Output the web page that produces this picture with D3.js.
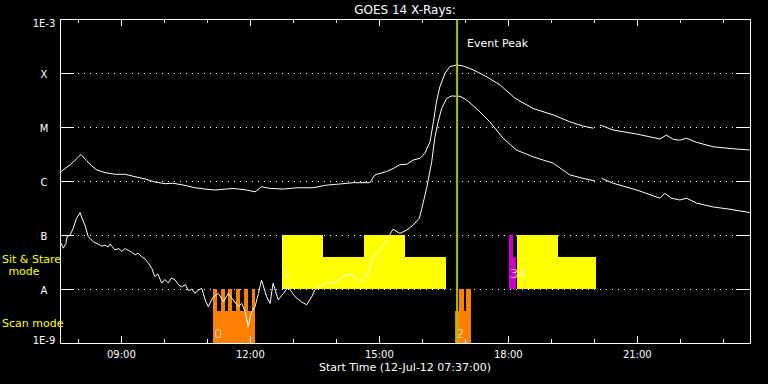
<!DOCTYPE html>
<html>
<head>
<meta charset="utf-8">
<script src="https://cdn.jsdelivr.net/npm/d3@7"></script>
<style>
body { margin: 0; background: #000; }
svg { display: block; background: #000; }
text { font-family: "DejaVu Sans", sans-serif; fill: #fff; }
</style>
</head>
<body>
<svg></svg>
<script>
// flux levels on the y axis (W/m^2) and their labels
var levelValues = [1e-3, 1e-4, 1e-5, 1e-6, 1e-7, 1e-8, 1e-9];
var levelLabels = ["1E-3", "X", "M", "C", "B", "A", "1E-9"];

// hour ticks, labelled every 3 hours
var hourTicks = [8, 9, 10, 11, 12, 13, 14, 15, 16, 17, 18, 19, 20, 21, 22, 23];
var hourLabels = [9, 12, 15, 18, 21];

// GOES 14 long channel (1-8 A): [hour UT, flux]; null = data gap
var longChannel = [
  [7.61,1.5e-6],[7.70,1.7e-6],[7.82,2.0e-6],[7.93,2.4e-6],[8.07,3.1e-6],[8.20,2.4e-6],
  [8.32,1.9e-6],[8.44,1.6e-6],[8.63,1.43e-6],[8.86,1.33e-6],[9.10,1.33e-6],[9.33,1.2e-6],
  [9.56,1.09e-6],[9.79,9.6e-7],[10.03,8.9e-7],[10.21,9.1e-7],[10.49,8.3e-7],[10.72,7.5e-7],
  [10.96,7.1e-7],[11.19,6.8e-7],[11.37,7.0e-7],[11.61,7.3e-7],[11.93,6.8e-7],[12.12,6.3e-7],
  [12.27,7.8e-7],[12.47,7.3e-7],[12.78,7.1e-7],[13.09,7.5e-7],[13.47,7.5e-7],[13.79,8.4e-7],
  [14.10,8.8e-7],[14.40,9.3e-7],[14.79,9.3e-7],[14.91,1.3e-6],[15.18,1.5e-6],[15.33,1.7e-6],
  [15.49,2.0e-6],[15.65,2.04e-6],[15.80,2.45e-6],[15.96,2.63e-6],[16.07,3.26e-6],[16.19,5.3e-6],
  [16.27,1.25e-5],[16.34,2.94e-5],[16.42,5.6e-5],[16.54,9.9e-5],[16.65,1.31e-4],[16.81,1.41e-4],
  [16.96,1.35e-4],[17.20,1.14e-4],[17.51,8.5e-5],[17.82,6.0e-5],[18.17,3.4e-5],[18.59,2.2e-5],
  [19.06,1.67e-5],[19.44,1.25e-5],[19.75,1.04e-5],[19.99,9.5e-6],null,
  [20.14,1.09e-5],[20.45,8.8e-6],[21.00,7.4e-6],[21.54,6.0e-6],[21.69,7.1e-6],[21.85,5.9e-6],
  [22.00,5.7e-6],[22.16,6.2e-6],[22.39,5.2e-6],[22.78,4.3e-6],[23.17,4.0e-6],[23.63,3.75e-6]
];

// GOES 14 short channel (0.5-4 A)
var shortChannel = [
  [7.61,7.0e-8],[7.66,5.7e-8],[7.72,7.0e-8],[7.75,9.3e-8],[7.82,1.0e-7],[7.89,1.33e-7],
  [7.97,2.04e-7],[8.05,2.6e-7],[8.10,2.0e-7],[8.17,1.47e-7],[8.24,9.3e-8],[8.36,7.5e-8],
  [8.47,6.8e-8],[8.56,6.2e-8],[8.63,6.5e-8],[8.70,6.0e-8],[8.75,6.8e-8],[8.86,5.3e-8],
  [8.95,5.6e-8],[9.02,5.0e-8],[9.10,5.6e-8],[9.17,5.2e-8],[9.25,4.8e-8],[9.33,4.3e-8],
  [9.40,4.6e-8],[9.48,4.0e-8],[9.56,3.6e-8],[9.64,3.0e-8],[9.72,2.4e-8],[9.79,1.7e-8],
  [9.86,1.9e-8],[9.95,1.28e-8],[10.02,1.5e-8],[10.10,1.3e-8],[10.18,1.6e-8],
  [10.26,1.47e-8],[10.34,1.2e-8],[10.41,1.1e-8],[10.50,1.2e-8],[10.57,9.3e-9],[10.65,1.0e-8],
  [10.72,8.3e-9],[10.80,9.5e-9],[10.88,1.03e-8],[10.96,6.3e-9],
  [11.03,4.7e-9],[11.15,7.2e-9],[11.27,8.3e-9],[11.38,5.8e-9],[11.50,8.3e-9],[11.61,6.3e-9],
  [11.73,4.7e-9],[11.81,5.4e-9],[11.89,3.8e-9],[11.96,2.0e-9],[12.04,3.8e-9],[12.12,4.7e-9],
  [12.20,8.3e-9],[12.27,1.47e-8],[12.39,7.2e-9],[12.47,5.4e-9],[12.54,1.28e-8],[12.66,6.3e-9],
  [12.78,8.3e-9],[12.89,1.1e-8],[13.05,7.2e-9],[13.20,5.8e-9],[13.32,5.1e-9],[13.44,7.2e-9],
  [13.51,9.6e-9],[13.63,1.1e-8],[13.79,1.36e-8],[13.98,1.28e-8],[14.17,1.7e-8],[14.33,1.9e-8],
  [14.48,1.58e-8],[14.60,1.36e-8],[14.75,1.95e-8],[14.87,4.0e-8],[15.03,5.3e-8],[15.18,8.1e-8],
  [15.33,1.28e-7],[15.49,1.07e-7],[15.65,1.24e-7],[15.80,1.53e-7],[15.94,2.04e-7],[16.00,3.1e-7],
  [16.11,7.3e-7],[16.23,2.28e-6],[16.30,6.2e-6],[16.38,1.25e-5],[16.46,2.2e-5],[16.58,3.4e-5],
  [16.69,3.75e-5],[16.89,3.7e-5],[17.04,3.16e-5],[17.27,2.2e-5],[17.58,1.25e-5],[17.89,6.2e-6],
  [18.20,3.75e-6],[18.59,2.8e-6],[19.06,2.13e-6],[19.44,1.3e-6],[19.75,1.12e-6],[20.03,1.0e-6],null,
  [20.18,1.12e-6],[20.45,9.1e-7],[21.00,6.8e-7],[21.54,4.8e-7],[21.65,5.9e-7],[21.81,4.8e-7],
  [22.00,4.45e-7],[22.16,4.8e-7],[22.39,3.9e-7],[22.78,3.3e-7],[23.17,3.0e-7],[23.63,2.6e-7]
];

// observing mode blocks: [start hour, end hour, level (fraction of band)]
var sitStareBlocks = [
  [12.75,13.70,1],[13.70,14.65,0.6],[14.65,15.60,1],[15.60,16.56,0.6],
  [18.21,19.17,1],[19.17,20.05,0.6]
];
var targetBlocks = [[18.03,18.12,1],[18.12,18.19,0.6]];
var scanBlocks = [
  [11.14,11.23,1],[11.23,11.32,0.6],[11.32,11.41,1],[11.41,11.50,0.6],[11.50,11.59,1],
  [11.59,11.68,0.6],[11.68,11.77,1],[11.77,11.86,0.6],[11.86,11.95,1],[11.95,12.04,0.6],
  [12.04,12.13,1],
  [16.77,16.86,0.6],[16.86,16.98,1],[16.98,17.03,0.6],[17.03,17.14,1]
];

// block numbers: [label, start hour, band]
var blockLabels = [["0",11.14,"scan"],["1",12.75,"sit"],["2",16.77,"scan"],["3",18.03,"sit"],["4",18.21,"sit"]];

var peakTime = 16.82;

var svg = d3.select("svg")
    .attr("width", 768)
    .attr("height", 384);

var plotL = 60, plotR = 750, plotT = 19, plotB = 343;

var x = d3.scaleLinear()
    .domain([7 + 35/60, 23 + 38/60])
    .range([plotL, plotR]);

var y = d3.scaleLog()
    .domain([1e-9, 1e-3])
    .range([plotB, plotT]);

// bands for the mode blocks
var sitBand = d3.scaleLinear().domain([0, 1]).range([y(1e-8), y(1e-7)]);
var scanBand = d3.scaleLinear().domain([0, 1]).range([y(1e-9), y(1e-8)]);

// dotted level lines
svg.append("g")
  .selectAll("line")
  .data(levelValues.slice(1, 6))
  .enter().append("line")
    .attr("x1", plotL).attr("x2", plotR)
    .attr("y1", function(d) { return y(d) + 0.5; })
    .attr("y2", function(d) { return y(d) + 0.5; })
    .attr("stroke", "#fff")
    .attr("stroke-dasharray", "1,5")
    .attr("shape-rendering", "crispEdges");

// mode blocks
function drawBlocks(data, band, color) {
  svg.append("g")
    .selectAll("rect")
    .data(data)
    .enter().append("rect")
      .attr("x", function(d) { return x(d[0]); })
      .attr("width", function(d) { return x(d[1]) - x(d[0]); })
      .attr("y", function(d) { return band(d[2]); })
      .attr("height", function(d) { return band(0) - band(d[2]); })
      .attr("fill", color)
      .attr("shape-rendering", "crispEdges");
}
drawBlocks(sitStareBlocks, sitBand, "#ffff00");
drawBlocks(targetBlocks, sitBand, "#cc00cc");
drawBlocks(scanBlocks, scanBand, "#ff8000");

// block numbers
svg.append("g")
  .selectAll("text")
  .data(blockLabels)
  .enter().append("text")
    .attr("x", function(d) { return x(d[1]) + 1; })
    .attr("y", function(d) { return d[2] == "scan" ? scanBand(0) - 5 : sitBand(0) - 11; })
    .attr("font-size", 13)
    .attr("font-weight", 300)
    .text(function(d) { return d[0]; });

// flux curves
var line = d3.line()
    .defined(function(d) { return d !== null; })
    .x(function(d) { return x(d[0]); })
    .y(function(d) { return y(d[1]); });

[longChannel, shortChannel].forEach(function(series) {
  svg.append("path")
      .datum(series)
      .attr("d", line)
      .attr("fill", "none")
      .attr("stroke", "#fff")
      .attr("stroke-width", 1);
});

// event peak marker
svg.append("line")
    .attr("x1", x(peakTime)).attr("x2", x(peakTime))
    .attr("y1", plotT).attr("y2", plotB)
    .attr("stroke", "#99cc00")
    .attr("stroke-width", 2);

svg.append("text")
    .attr("x", x(peakTime) + 10)
    .attr("y", 47)
    .attr("font-size", 11)
    .text("Event Peak");

// axes
function hourFmt(h) { return (h < 10 ? "0" : "") + h + ":00"; }

var gBottom = svg.append("g").attr("transform", "translate(0," + plotB + ")");
gBottom.call(d3.axisBottom(x).tickValues(hourTicks).tickSize(-4).tickSizeOuter(0).tickFormat(""));
gBottom.append("g").call(d3.axisBottom(x).tickValues(hourLabels).tickSize(-7).tickSizeOuter(0)
    .tickPadding(8).tickFormat(hourFmt));

var gTop = svg.append("g").attr("transform", "translate(0," + plotT + ")");
gTop.call(d3.axisTop(x).tickValues(hourTicks).tickSize(-4).tickSizeOuter(0).tickFormat(""));
gTop.append("g").call(d3.axisTop(x).tickValues(hourLabels).tickSize(-7).tickSizeOuter(0).tickFormat(""));

var gLeft = svg.append("g").attr("transform", "translate(" + plotL + ",0)");
gLeft.call(d3.axisLeft(y).tickValues(levelValues).tickSize(-14).tickSizeOuter(0)
    .tickFormat(function(d, i) { return levelLabels[i]; }));
gLeft.selectAll(".tick text")
    .attr("text-anchor", "middle")
    .attr("x", -16)
    .attr("y", function(d) { return d === 1e-3 ? 4 : d === 1e-9 ? -3 : 1; });

var gRight = svg.append("g").attr("transform", "translate(" + plotR + ",0)");
gRight.call(d3.axisRight(y).tickValues(levelValues).tickSize(-14).tickSizeOuter(0).tickFormat(""));

svg.selectAll(".domain").remove();
svg.selectAll(".tick line").attr("stroke", "#fff").attr("shape-rendering", "crispEdges");
svg.selectAll(".tick text")
    .attr("fill", "#fff")
    .attr("font-family", "DejaVu Sans")
    .attr("font-size", 10);

// frame
svg.append("rect")
    .attr("x", plotL + 0.5).attr("y", plotT + 0.5)
    .attr("width", plotR - plotL).attr("height", plotB - plotT)
    .attr("fill", "none")
    .attr("stroke", "#fff")
    .attr("shape-rendering", "crispEdges");

// titles
svg.append("text")
    .attr("x", (plotL + plotR) / 2)
    .attr("y", 14)
    .attr("text-anchor", "middle")
    .attr("font-size", 12)
    .text("GOES 14 X-Rays:");

svg.append("text")
    .attr("x", (plotL + plotR) / 2)
    .attr("y", 371)
    .attr("text-anchor", "middle")
    .attr("font-size", 11)
    .text("Start Time (12-Jul-12 07:37:00)");

// mode names
var modeText = svg.append("g").attr("font-size", 11);
modeText.append("text").attr("x", 2).attr("y", sitBand(0.5) + 1).style("fill", "#ffff00").text("Sit & Stare");
modeText.append("text").attr("x", 24).attr("y", sitBand(0.5) + 13).attr("text-anchor", "middle")
    .style("fill", "#ffff00").text("mode");
modeText.append("text").attr("x", 2).attr("y", scanBand(0.5) + 11).style("fill", "#ffff00").text("Scan mode");
</script>
</body>
</html>
